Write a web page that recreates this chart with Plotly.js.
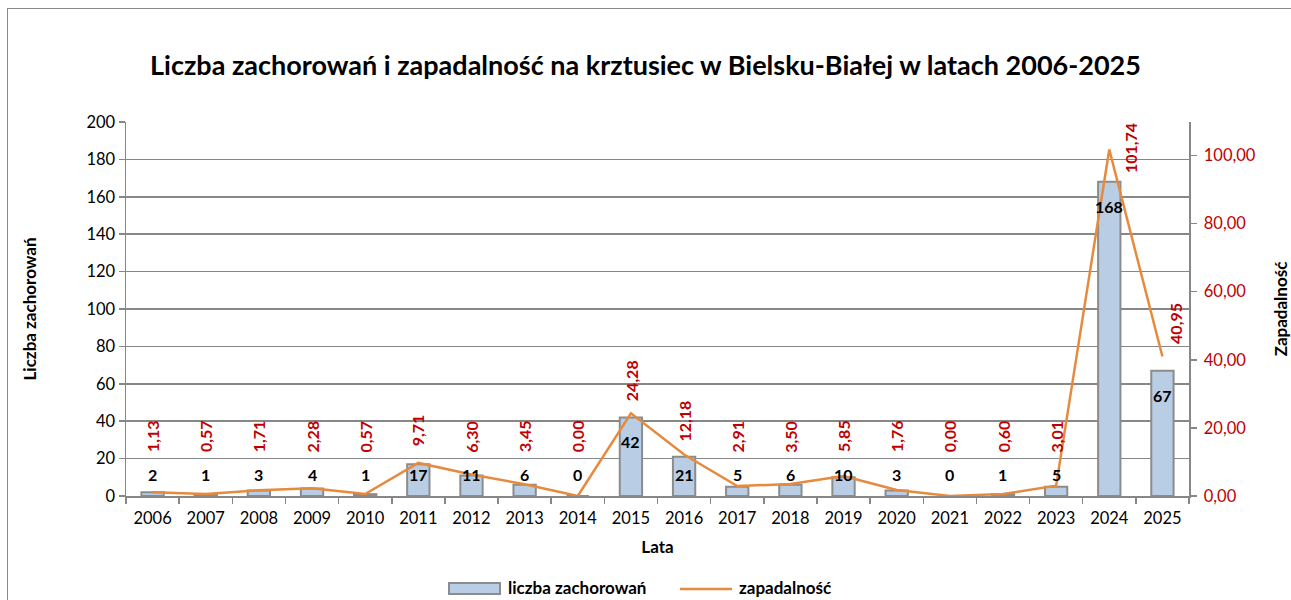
<!DOCTYPE html>
<html><head><meta charset="utf-8">
<script src="https://cdn.plot.ly/plotly-3.0.1.min.js"></script>
<style>
html,body{margin:0;padding:0;background:#fff;overflow:hidden}
#frame{position:absolute;left:7px;top:8px;width:1400px;height:700px;border:1.5px solid #8a8a8a;box-sizing:border-box}
#chart{position:absolute;left:0;top:0;width:1291px;height:600px}
</style></head>
<body>
<div id="frame"></div>
<div id="chart"></div>
<script>
const years = ["2006","2007","2008","2009","2010","2011","2012","2013","2014","2015","2016","2017","2018","2019","2020","2021","2022","2023","2024","2025"];
const cases = [2,1,3,4,1,17,11,6,0,42,21,5,6,10,3,0,1,5,168,67];
const rates = [1.13,0.57,1.71,2.28,0.57,9.71,6.30,3.45,0.00,24.28,12.18,2.91,3.50,5.85,1.76,0.00,0.60,3.01,101.74,40.95];
const seriesNames = ["liczba zachorowań", "zapadalność"];

const FONT = "Lato, 'Open Sans', sans-serif";
const RED = "#C00000";
const GRID = "#878787";
const BAR_FILL = "#B9CDE5", BAR_LINE = "#8C8C8C", LINE_COL = "#E68A3E";

// plot-area geometry (pixels) used for the hand-drawn legend
const W = 1291, H = 600, ML = 126, MR = 102, MT = 122, MB = 104;
const PW = W - ML - MR, PH = H - MT - MB;
const px = x => (x - ML) / PW;
const py = y => (H - MB - y) / PH;

const barTrace = {
  type: "bar", x: years, y: cases, name: seriesNames[0],
  width: 0.42,
  marker: {color: BAR_FILL, line: {color: BAR_LINE, width: 2}},
  hoverinfo: "x+y"
};
const lineTrace = {
  type: "scatter", mode: "lines", x: years, y: rates, yaxis: "y2",
  name: seriesNames[1], line: {color: LINE_COL, width: 2.5}
};

const annotations = [];
cases.forEach((v, i) => {
  annotations.push({
    x: i, y: Math.max(v - 13, 11.6), xref: "x", yref: "y",
    text: "<b>" + v + "</b>", showarrow: false,
    font: {family: FONT, size: 16, color: "#000"}
  });
});
const rmax = Math.max(...rates);
rates.forEach((v, i) => {
  const isMax = v === rmax;
  annotations.push({
    x: i, xref: "x", yref: "y2",
    y: isMax ? v + 0.5 : Math.max(v + 9.7, 17.5),
    xshift: isMax ? 21 : (v > 30 ? 13 : 0),
    text: "<b>" + v.toFixed(2).replace(".", ",") + "</b>", showarrow: false,
    textangle: -90,
    font: {family: FONT, size: 16, color: RED}
  });
});

// legend (drawn by hand to match the wide Excel-style swatches)
annotations.push({
  xref: "paper", yref: "paper", x: px(506), y: py(587), xanchor: "left", yanchor: "middle",
  text: "<b>" + seriesNames[0] + "</b>", showarrow: false,
  font: {family: FONT, size: 17, color: "#000"}
});
annotations.push({
  xref: "paper", yref: "paper", x: px(737), y: py(587), xanchor: "left", yanchor: "middle",
  text: "<b>" + seriesNames[1] + "</b>", showarrow: false,
  font: {family: FONT, size: 17, color: "#000"}
});
const shapes = [
  {type: "rect", xref: "paper", yref: "paper", x0: px(449), x1: px(500), y0: py(594), y1: py(583),
   fillcolor: BAR_FILL, line: {color: BAR_LINE, width: 2}},
  {type: "line", xref: "paper", yref: "paper", x0: px(680), x1: px(732), y0: py(589), y1: py(589),
   line: {color: LINE_COL, width: 2.5}}
];

const layout = {
  width: W, height: H,
  margin: {l: ML, r: MR, t: MT, b: MB},
  paper_bgcolor: "rgba(0,0,0,0)", plot_bgcolor: "#fff",
  separators: ", ",
  font: {family: FONT, size: 16, color: "#000"},
  title: {
    text: "<b>Liczba zachorowań i zapadalność na krztusiec w Bielsku-Białej w latach 2006-2025</b>",
    font: {family: FONT, size: 27, color: "#000"},
    x: 0.5, xanchor: "center", y: 0.89, yanchor: "middle"
  },
  showlegend: false,
  xaxis: {
    type: "category", range: [-0.5, 19.5],
    tickson: "boundaries", ticks: "outside", ticklen: 6, tickcolor: GRID, tickwidth: 1.5,
    ticklabelstandoff: 7,
    showline: true, linecolor: GRID, linewidth: 1.5,
    showgrid: false,
    tickfont: {family: FONT, size: 16.5, color: "#000"},
    title: {text: "<b>Lata</b>", font: {family: FONT, size: 17, color: "#000"}, standoff: 14}
  },
  yaxis: {
    range: [0, 200], dtick: 20, tick0: 0,
    showgrid: true, gridcolor: GRID, gridwidth: 1.5,
    showline: true, linecolor: GRID, linewidth: 1.5,
    ticks: "outside", ticklen: 6, tickcolor: GRID, tickwidth: 1.5,
    zeroline: false,
    tickfont: {family: FONT, size: 16.5, color: "#000"},
    title: {text: "<b>Liczba zachorowań</b>", font: {family: FONT, size: 17, color: "#000"}, standoff: 45}
  },
  yaxis2: {
    overlaying: "y", side: "right",
    range: [0, 109.8], dtick: 20, tick0: 0, tickformat: ".2f",
    showgrid: false, zeroline: false,
    showline: true, linecolor: GRID, linewidth: 1.5,
    ticks: "outside", ticklen: 6, tickcolor: GRID, tickwidth: 1.5,
    ticklabelstandoff: 4,
    tickfont: {family: FONT, size: 16.5, color: RED},
    title: {text: "<b>Zapadalność</b>", font: {family: FONT, size: 17, color: "#000"}, standoff: 22}
  },
  annotations: annotations,
  shapes: shapes
};

Plotly.newPlot("chart", [barTrace, lineTrace], layout, {displayModeBar: false, staticPlot: true});
</script>
</body></html>
